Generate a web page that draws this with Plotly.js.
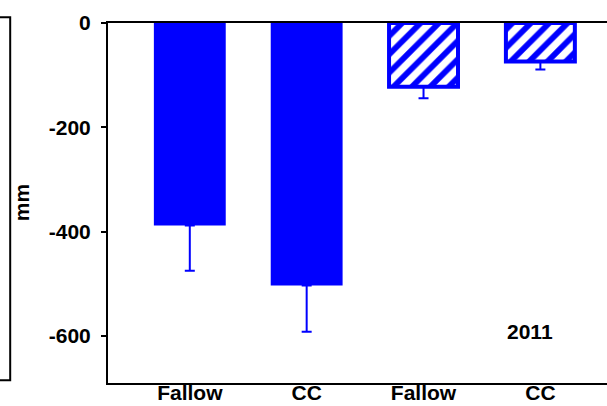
<!DOCTYPE html>
<html>
<head>
<meta charset="utf-8">
<script src="https://cdn.plot.ly/plotly-3.0.1.min.js"></script>
<style>html,body{margin:0;padding:0;background:#fff;}#chart{width:607px;height:406px;}</style>
</head>
<body>
<div id="chart"></div>
<script>
var categories = ["Fallow", "CC", "Fallow", "CC"];
var values = [-388, -503, -122, -74];
var errorsDown = [87, 89, 22, 15];
var patterns = ["", "", "/", "/"];
var yTicks = [0, -200, -400, -600];
var yearLabel = "2011";
var yTitle = "mm";

var xIdx = categories.map(function (_, i) { return i; });

var trace = {
  type: "bar",
  x: xIdx,
  y: values,
  width: [0.615, 0.615, 0.59, 0.59],
  marker: {
    color: "#0000ff",
    line: { color: "#0000ff", width: [0, 0, 4, 4] },
    pattern: { shape: patterns, fgcolor: "#0000ff", bgcolor: "#ffffff", size: 13, solidity: 0.45, fillmode: "replace" }
  },
  error_y: {
    type: "data",
    symmetric: false,
    array: values.map(function () { return 0; }),
    arrayminus: errorsDown,
    color: "#0000ff",
    thickness: 2,
    width: 5
  },
  hoverinfo: "none"
};

var layout = {
  width: 607,
  height: 406,
  margin: { l: 108, r: 0, t: 23, b: 23 },
  paper_bgcolor: "#ffffff",
  plot_bgcolor: "#ffffff",
  showlegend: false,
  font: { family: "Liberation Sans, Arial, sans-serif", color: "#000" },
  xaxis: {
    range: [-0.7, 3.57],
    tickvals: xIdx,
    ticktext: categories.map(function (c) { return "<b>" + c + "</b>"; }),
    tickfont: { size: 21, color: "#000" },
    ticklabelstandoff: -10,
    showline: true,
    linecolor: "#000",
    linewidth: 2,
    mirror: true,
    ticks: "",
    showgrid: false,
    zeroline: false,
    fixedrange: true
  },
  yaxis: {
    range: [-690, 0],
    tickvals: yTicks,
    ticktext: yTicks.map(function (v) { return "<b>" + v + "</b>"; }),
    tickfont: { size: 21, color: "#000" },
    ticks: "outside",
    ticklen: 5,
    tickwidth: 2,
    tickcolor: "#000",
    ticklabelstandoff: 6,
    showline: true,
    linecolor: "#000",
    linewidth: 2,
    showgrid: false,
    zeroline: false,
    automargin: false,
    fixedrange: true
  },
  annotations: [
    { xref: "paper", yref: "paper", x: 0.846, y: 0.142, xanchor: "center", yanchor: "middle", text: "<b>" + yearLabel + "</b>", showarrow: false, font: { size: 21, color: "#000" } },
    { xref: "paper", yref: "paper", x: -0.174, y: 0.5, xanchor: "center", yanchor: "middle", text: "<b>" + yTitle + "</b>", textangle: -90, showarrow: false, font: { size: 21, color: "#000" } }
  ],
  shapes: [
    { type: "rect", xref: "paper", yref: "paper", x0: -0.3, x1: -0.196, y0: 0.0075, y1: 1.016, line: { color: "#000", width: 2 }, fillcolor: "rgba(0,0,0,0)" }
  ]
};

Plotly.newPlot("chart", [trace], layout, { displayModeBar: false, staticPlot: true });
</script>
</body>
</html>
